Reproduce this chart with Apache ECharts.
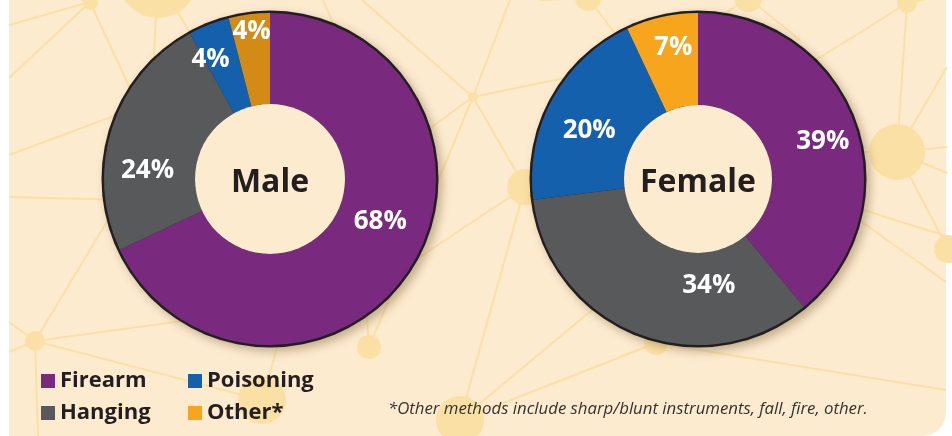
<!DOCTYPE html>
<html>
<head>
<meta charset="utf-8">
<script src="https://cdn.jsdelivr.net/npm/echarts@6/dist/echarts.min.js"></script>
<style>
  html, body { margin: 0; padding: 0; background: #ffffff; }
  #main { width: 952px; height: 436px; }
</style>
</head>
<body>
<div id="main"></div>
<script>
// data
let categories = ['Firearm', 'Hanging', 'Poisoning', 'Other*'];
let maleValues = [68, 24, 4, 4];
let femaleValues = [39, 34, 20, 7];
let groups = ['Male', 'Female'];
let legendOrder = ['Firearm', 'Poisoning', 'Hanging', 'Other*'];
let footnote = '*Other methods include sharp/blunt instruments, fall, fire, other.';

// styles
let colors = ['#792a7f', '#58595b', '#1560ac', '#f6a51d'];
let maleColors = ['#792a7f', '#58595b', '#1560ac', '#d48b15'];
let maleLabelOffsets = [[6, -24], [-5, 30], [-14, -5], [-3, -25]];
let femaleLabelOffsets = [[9, 4], [56, -8], [-1, 11], [2, -11]];

let panel = '#fdebd0';
let net = '#fbe0a6';
let font = '"Open Sans", "Noto Sans", sans-serif';

// background network decoration
let nodes = [
    [90, 2, 8], [158, -22, 40], [473, 97, 5], [525, 187, 18], [588, -2, 13],
    [748, -2, 14], [907, 3, 10], [897, 152, 28], [948, 249, 14], [35, 341, 10],
    [262, 400, 24], [369, 347, 12], [460, 420, 24], [656, 343, 12]
];
let links = [
    [90, 2, 9, 25], [90, 2, 9, 78], [90, 2, 140, 110], [90, 2, 158, -22],
    [158, -22, 152, 90], [158, -22, 200, 50], [9, 155, 130, 110], [9, 197, 130, 200],
    [323, 0, 336, 30], [362, 0, 473, 97], [510, 0, 473, 97], [473, 97, 700, 50],
    [473, 97, 525, 187], [473, 97, 400, 150], [473, 97, 430, 200],
    [525, 187, 400, 270], [525, 187, 460, 420], [525, 187, 600, 170],
    [460, 420, 700, 220], [460, 420, 656, 343],
    [369, 347, 365, 290], [369, 347, 395, 285],
    [262, 400, 285, 320], [35, 341, 262, 400], [35, 341, 9, 322], [35, 341, 9, 352],
    [35, 341, 120, 200], [35, 341, 190, 320], [35, 341, 38, 436],
    [656, 343, 946, 390], [656, 343, 620, 357],
    [897, 152, 907, 3], [897, 152, 947, 147], [897, 152, 947, 173], [897, 152, 820, 152],
    [897, 152, 948, 249], [907, 3, 800, 70], [907, 3, 946, -5], [947, 67, 897, 152],
    [800, 190, 946, 236], [820, 192, 946, 282],
    [748, -2, 700, 30], [748, -2, 800, 40], [588, -2, 620, 40], [588, -2, 540, 0]
];

let graphics = [{
    type: 'rect',
    z: -10,
    shape: { x: 9, y: -30, width: 937, height: 466, r: [0, 0, 24, 0] },
    style: { fill: panel }
}];
for (let l of links) {
    graphics.push({
        type: 'line', z: -9, silent: true,
        shape: { x1: l[0], y1: l[1], x2: l[2], y2: l[3] },
        style: { stroke: net, lineWidth: 2 }
    });
}
for (let n of nodes) {
    graphics.push({
        type: 'circle', z: -8, silent: true,
        shape: { cx: n[0], cy: n[1], r: n[2] },
        style: { fill: net }
    });
}

function sliceData(values, cols, offsets) {
    return categories.map(function (name, i) {
        return {
            name: name,
            value: values[i],
            itemStyle: { color: cols[i] },
            label: { offset: offsets[i] }
        };
    });
}

function donut(label, values, cols, offsets, center, inner) {
    return [
        {
            // dark rim with shadow
            type: 'pie', silent: true, center: center, radius: [0, 168.5],
            label: { show: false }, labelLine: { show: false },
            itemStyle: {
                color: '#231f20',
                shadowBlur: 10, shadowOffsetX: 4, shadowOffsetY: 4,
                shadowColor: 'rgba(90, 60, 10, 0.35)'
            },
            data: [{ name: label + ' rim', value: 1 }]
        },
        {
            type: 'pie', silent: true, center: center, radius: [inner, 166],
            startAngle: 90, clockwise: true,
            label: {
                show: true, position: 'inside',
                formatter: '{c}%',
                color: '#ffffff', fontFamily: font, fontWeight: 'bold', fontSize: 26
            },
            labelLine: { show: false },
            data: sliceData(values, cols, offsets)
        },
        {
            // hole with group name
            type: 'pie', silent: true, center: center, radius: [0, inner],
            label: {
                show: true, position: 'center', formatter: label, offset: [0, 4],
                color: '#231f20', fontFamily: font, fontWeight: 'bold', fontSize: 32
            },
            labelLine: { show: false },
            itemStyle: { color: panel },
            data: [{ name: label, value: 1 }]
        }
    ];
}

let option = {
    animation: false,
    graphic: graphics,
    title: {
        text: footnote,
        left: 388, top: 401, padding: 0,
        textStyle: {
            fontFamily: font, fontStyle: 'italic', fontWeight: 'normal',
            fontSize: 16.8, color: '#333333'
        }
    },
    legend: {
        left: 41, top: 370, width: 300, padding: 0,
        orient: 'horizontal',
        selectedMode: false,
        icon: 'rect', itemWidth: 14, itemHeight: 14, itemGap: 10,
        textStyle: {
            fontFamily: font, fontWeight: 'bold', fontSize: 22,
            color: '#231f20', width: 118, lineHeight: 21
        },
        data: legendOrder.map(function (name) {
            return { name: name, itemStyle: { color: colors[categories.indexOf(name)] } };
        })
    },
    series: [].concat(
        donut(groups[0], maleValues, maleColors, maleLabelOffsets, [270, 179], 75),
        donut(groups[1], femaleValues, colors, femaleLabelOffsets, [698, 179], 74)
    )
};

let chart = echarts.init(document.getElementById('main'));
chart.setOption(option);
</script>
</body>
</html>
